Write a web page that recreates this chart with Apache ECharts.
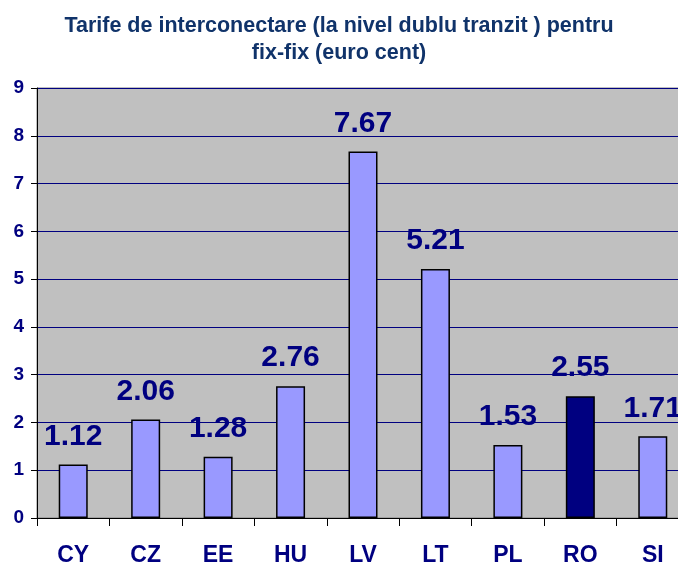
<!DOCTYPE html>
<html>
<head>
<meta charset="utf-8">
<script src="https://cdn.jsdelivr.net/npm/echarts@6/dist/echarts.min.js"></script>
<style>
  html, body { margin: 0; padding: 0; background: #fff; }
  #chart { width: 678px; height: 565px; }
</style>
</head>
<body>
<div id="chart"></div>
<script>
// tari si valori (euro cent)
const countries = ['CY', 'CZ', 'EE', 'HU', 'LV', 'LT', 'PL', 'RO', 'SI'];
const tariffs = [1.12, 2.06, 1.28, 2.76, 7.67, 5.21, 1.53, 2.55, 1.71];
const highlight = 'RO';

const navy = '#000080';
const chart = echarts.init(document.getElementById('chart'));

const barData = countries.map((c, i) => ({
  value: tariffs[i],
  itemStyle: { color: c === highlight ? navy : '#9999FF' }
}));

chart.setOption({
  animation: false,
  title: {
    text: 'Tarife de interconectare (la nivel dublu tranzit ) pentru\nfix-fix (euro cent)',
    left: 'center',
    top: 8,
    textStyle: {
      fontFamily: 'Liberation Sans, Arial',
      fontSize: 21.5,
      fontWeight: 'bold',
      color: '#10336a',
      lineHeight: 27
    }
  },
  grid: {
    left: 37,
    top: 88,
    width: 652,
    height: 430,
    outerBoundsMode: 'none',
    show: true,
    backgroundColor: '#C0C0C0',
    borderColor: '#808080',
    borderWidth: 1
  },
  xAxis: {
    type: 'category',
    data: countries,
    axisLine: { lineStyle: { color: '#000', width: 1 } },
    axisTick: { show: true, length: 8, lineStyle: { color: '#000' } },
    axisLabel: {
      margin: 26,
      fontFamily: 'Liberation Sans, Arial',
      fontSize: 23,
      fontWeight: 'bold',
      color: navy
    }
  },
  yAxis: {
    type: 'value',
    min: 0,
    max: 9,
    interval: 1,
    axisLine: { show: true, lineStyle: { color: '#000', width: 1 } },
    axisTick: { show: true, length: 6, lineStyle: { color: '#000' } },
    splitLine: { lineStyle: { color: navy, width: 1 } },
    axisLabel: {
      margin: 13,
      fontFamily: 'Liberation Sans, Arial',
      fontSize: 19,
      fontWeight: 'bold',
      color: navy
    }
  },
  series: [{
    type: 'bar',
    data: barData,
    barWidth: 29,
    itemStyle: { borderColor: '#000', borderWidth: 1.5 },
    label: {
      show: true,
      position: 'top',
      distance: 13,
      formatter: p => p.value.toFixed(2),
      fontFamily: 'Liberation Sans, Arial',
      fontSize: 30,
      fontWeight: 'bold',
      color: navy
    }
  }]
});
</script>
</body>
</html>
